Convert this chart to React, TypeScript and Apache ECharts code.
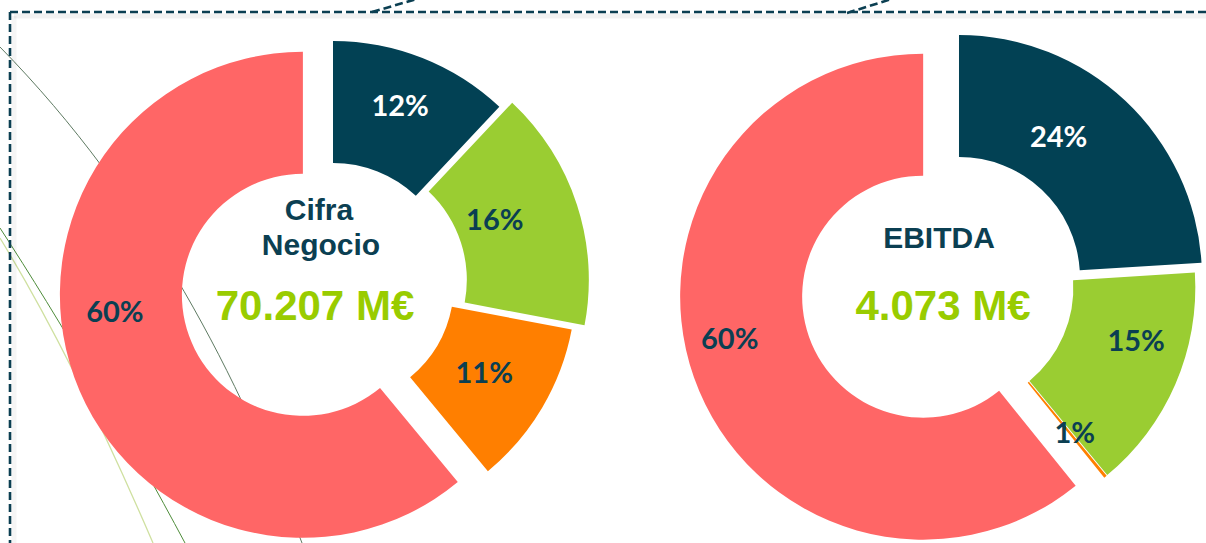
import React, { useEffect, useRef } from "react";
import * as echarts from "echarts";

// ---------- data ----------
const categories = ["Segmento 1", "Segmento 2", "Segmento 3", "Segmento 4"];
const cifraValues = [12, 16, 11, 61];
const cifraLabels = ["12%", "16%", "11%", "60%"];
const ebitdaValues = [24, 15, 0.2, 60.8];
const ebitdaLabels = ["24%", "15%", "1%", "60%"];
const cifraTitle = ["Cifra", "Negocio"];
const cifraTotal = "70.207 M€";
const ebitdaTitle = ["EBITDA"];
const ebitdaTotal = "4.073 M€";

// ---------- style / layout ----------
const sliceColors = ["#024154", "#9ACD32", "#FF7F00", "#FF6666"];
const labelColors = ["#FFFFFF", "#0B3F52", "#0B3F52", "#0B3F52"];
const titleColor = "#0B3F52";
const totalColor = "#99CC00";
const INNER = 121;
const OUTER = 243;

const cifraLayout = {
  center: [333, 284],
  explode: [0, 13.5, 0, 32],
  nudges: [[-1, -7], [-27, -4], [-8, -7], [-14, -47]],
};
const ebitdaLayout = {
  center: [950.5, 287],
  explode: [12.4, 2, 2, 29],
  nudges: [[-27, -8], [14, -22], [6, 0], [-19, -21]],
};

function buildSeries(values: number[], labels: string[], layout: any) {
  const total = values.reduce((a, b) => a + b, 0);
  let acc = 0;
  return values.map((v, i) => {
    const start = (acc / total) * 360;
    acc += v;
    const end = (acc / total) * 360;
    const mid = ((start + end) / 2) * (Math.PI / 180);
    const d = layout.explode[i];
    const cx = layout.center[0] + d * Math.sin(mid);
    const cy = layout.center[1] - d * Math.cos(mid);
    const nudge = layout.nudges[i];
    return {
      type: "pie",
      center: [cx, cy],
      radius: [INNER, OUTER],
      startAngle: 90,
      clockwise: true,
      silent: true,
      avoidLabelOverlap: false,
      emphasis: { disabled: true },
      labelLine: { show: false },
      z: 3,
      label: {
        show: true,
        position: "inside",
        formatter: labels[i],
        color: labelColors[i],
        fontFamily: "Lato",
        fontWeight: "bold",
        fontSize: 29,
      },
      labelLayout: () => ({ dx: nudge[0], dy: nudge[1] }),
      data: values.map((val, j) => ({
        name: categories[j],
        value: val,
        itemStyle: {
          color: j === i ? sliceColors[j] : "transparent",
          borderWidth: 0,
        },
        label: { show: j === i },
      })),
    };
  });
}

export default function App() {
  const ref = useRef<HTMLDivElement>(null);
  useEffect(() => {
    if (!ref.current) return;
    const chart = echarts.init(ref.current, undefined, { renderer: "svg" });

    const dashStyle = {
      stroke: "#0B3F52",
      lineWidth: 2.6,
      lineDash: [8, 4],
    };
    const shadowStyle = {
      stroke: "rgba(0,0,0,0.05)",
      lineWidth: 5,
    };
    const titleFont = {
      fontFamily: "Liberation Sans, Arial, sans-serif",
      fontWeight: "bold",
      fontSize: 30,
      fill: titleColor,
      textAlign: "center",
      textVerticalAlign: "middle",
    };
    const totalFont = {
      fontFamily: "Liberation Sans, Arial, sans-serif",
      fontWeight: "bold",
      fontSize: 42,
      fill: totalColor,
      textAlign: "center",
      textVerticalAlign: "middle",
    };

    chart.setOption({
      animation: false,
      backgroundColor: "#FFFFFF",
      graphic: [
        // decorative background curves
        {
          type: "bezierCurve", z: -10, silent: true,
          shape: { x1: 0, y1: 47, cpx1: 150, cpy1: 200, cpx2: 240, cpy2: 380, x2: 302, y2: 543 },
          style: { stroke: "#5E7A62", lineWidth: 1, fill: "none" },
        },
        {
          type: "bezierCurve", z: -10, silent: true,
          shape: { x1: 0, y1: 228, cpx1: 60, cpy1: 320, cpx2: 130, cpy2: 440, x2: 185, y2: 543 },
          style: { stroke: "#4E8C3A", lineWidth: 1, fill: "none" },
        },
        {
          type: "bezierCurve", z: -10, silent: true,
          shape: { x1: 0, y1: 238, cpx1: 50, cpy1: 320, cpx2: 100, cpy2: 420, x2: 153, y2: 543 },
          style: { stroke: "#CFE0A0", lineWidth: 1.3, fill: "none" },
        },
        // soft shadow under the frame
        { type: "line", z: 4, silent: true, shape: { x1: 14, y1: 16, x2: 1210, y2: 16 }, style: shadowStyle },
        { type: "line", z: 4, silent: true, shape: { x1: 14, y1: 16, x2: 14, y2: 560 }, style: { ...shadowStyle, stroke: "rgba(0,0,0,0.04)" } },
        // dashed frame
        { type: "line", z: 5, silent: true, shape: { x1: 10, y1: 12, x2: 10, y2: 560 }, style: dashStyle },
        { type: "line", z: 5, silent: true, shape: { x1: 10, y1: 12, x2: 1210, y2: 12 }, style: dashStyle },
        { type: "line", z: 5, silent: true, shape: { x1: 372, y1: 12, x2: 420, y2: -2 }, style: dashStyle },
        { type: "line", z: 5, silent: true, shape: { x1: 847, y1: 13, x2: 895, y2: -2 }, style: dashStyle },
        // centre texts
        { type: "text", z: 10, x: 319, y: 209, style: { ...titleFont, text: cifraTitle[0] } },
        { type: "text", z: 10, x: 321, y: 244, style: { ...titleFont, text: cifraTitle[1] } },
        { type: "text", z: 10, x: 315, y: 305, style: { ...totalFont, text: cifraTotal } },
        { type: "text", z: 10, x: 939, y: 237, style: { ...titleFont, text: ebitdaTitle[0] } },
        { type: "text", z: 10, x: 943, y: 305, style: { ...totalFont, text: ebitdaTotal } },
      ],
      series: [
        ...buildSeries(cifraValues, cifraLabels, cifraLayout),
        ...buildSeries(ebitdaValues, ebitdaLabels, ebitdaLayout),
      ],
    });
    return () => chart.dispose();
  }, []);

  return (
    <div
      ref={ref}
      style={{ position: "fixed", left: 0, top: 0, width: 1206, height: 543 }}
    />
  );
}
